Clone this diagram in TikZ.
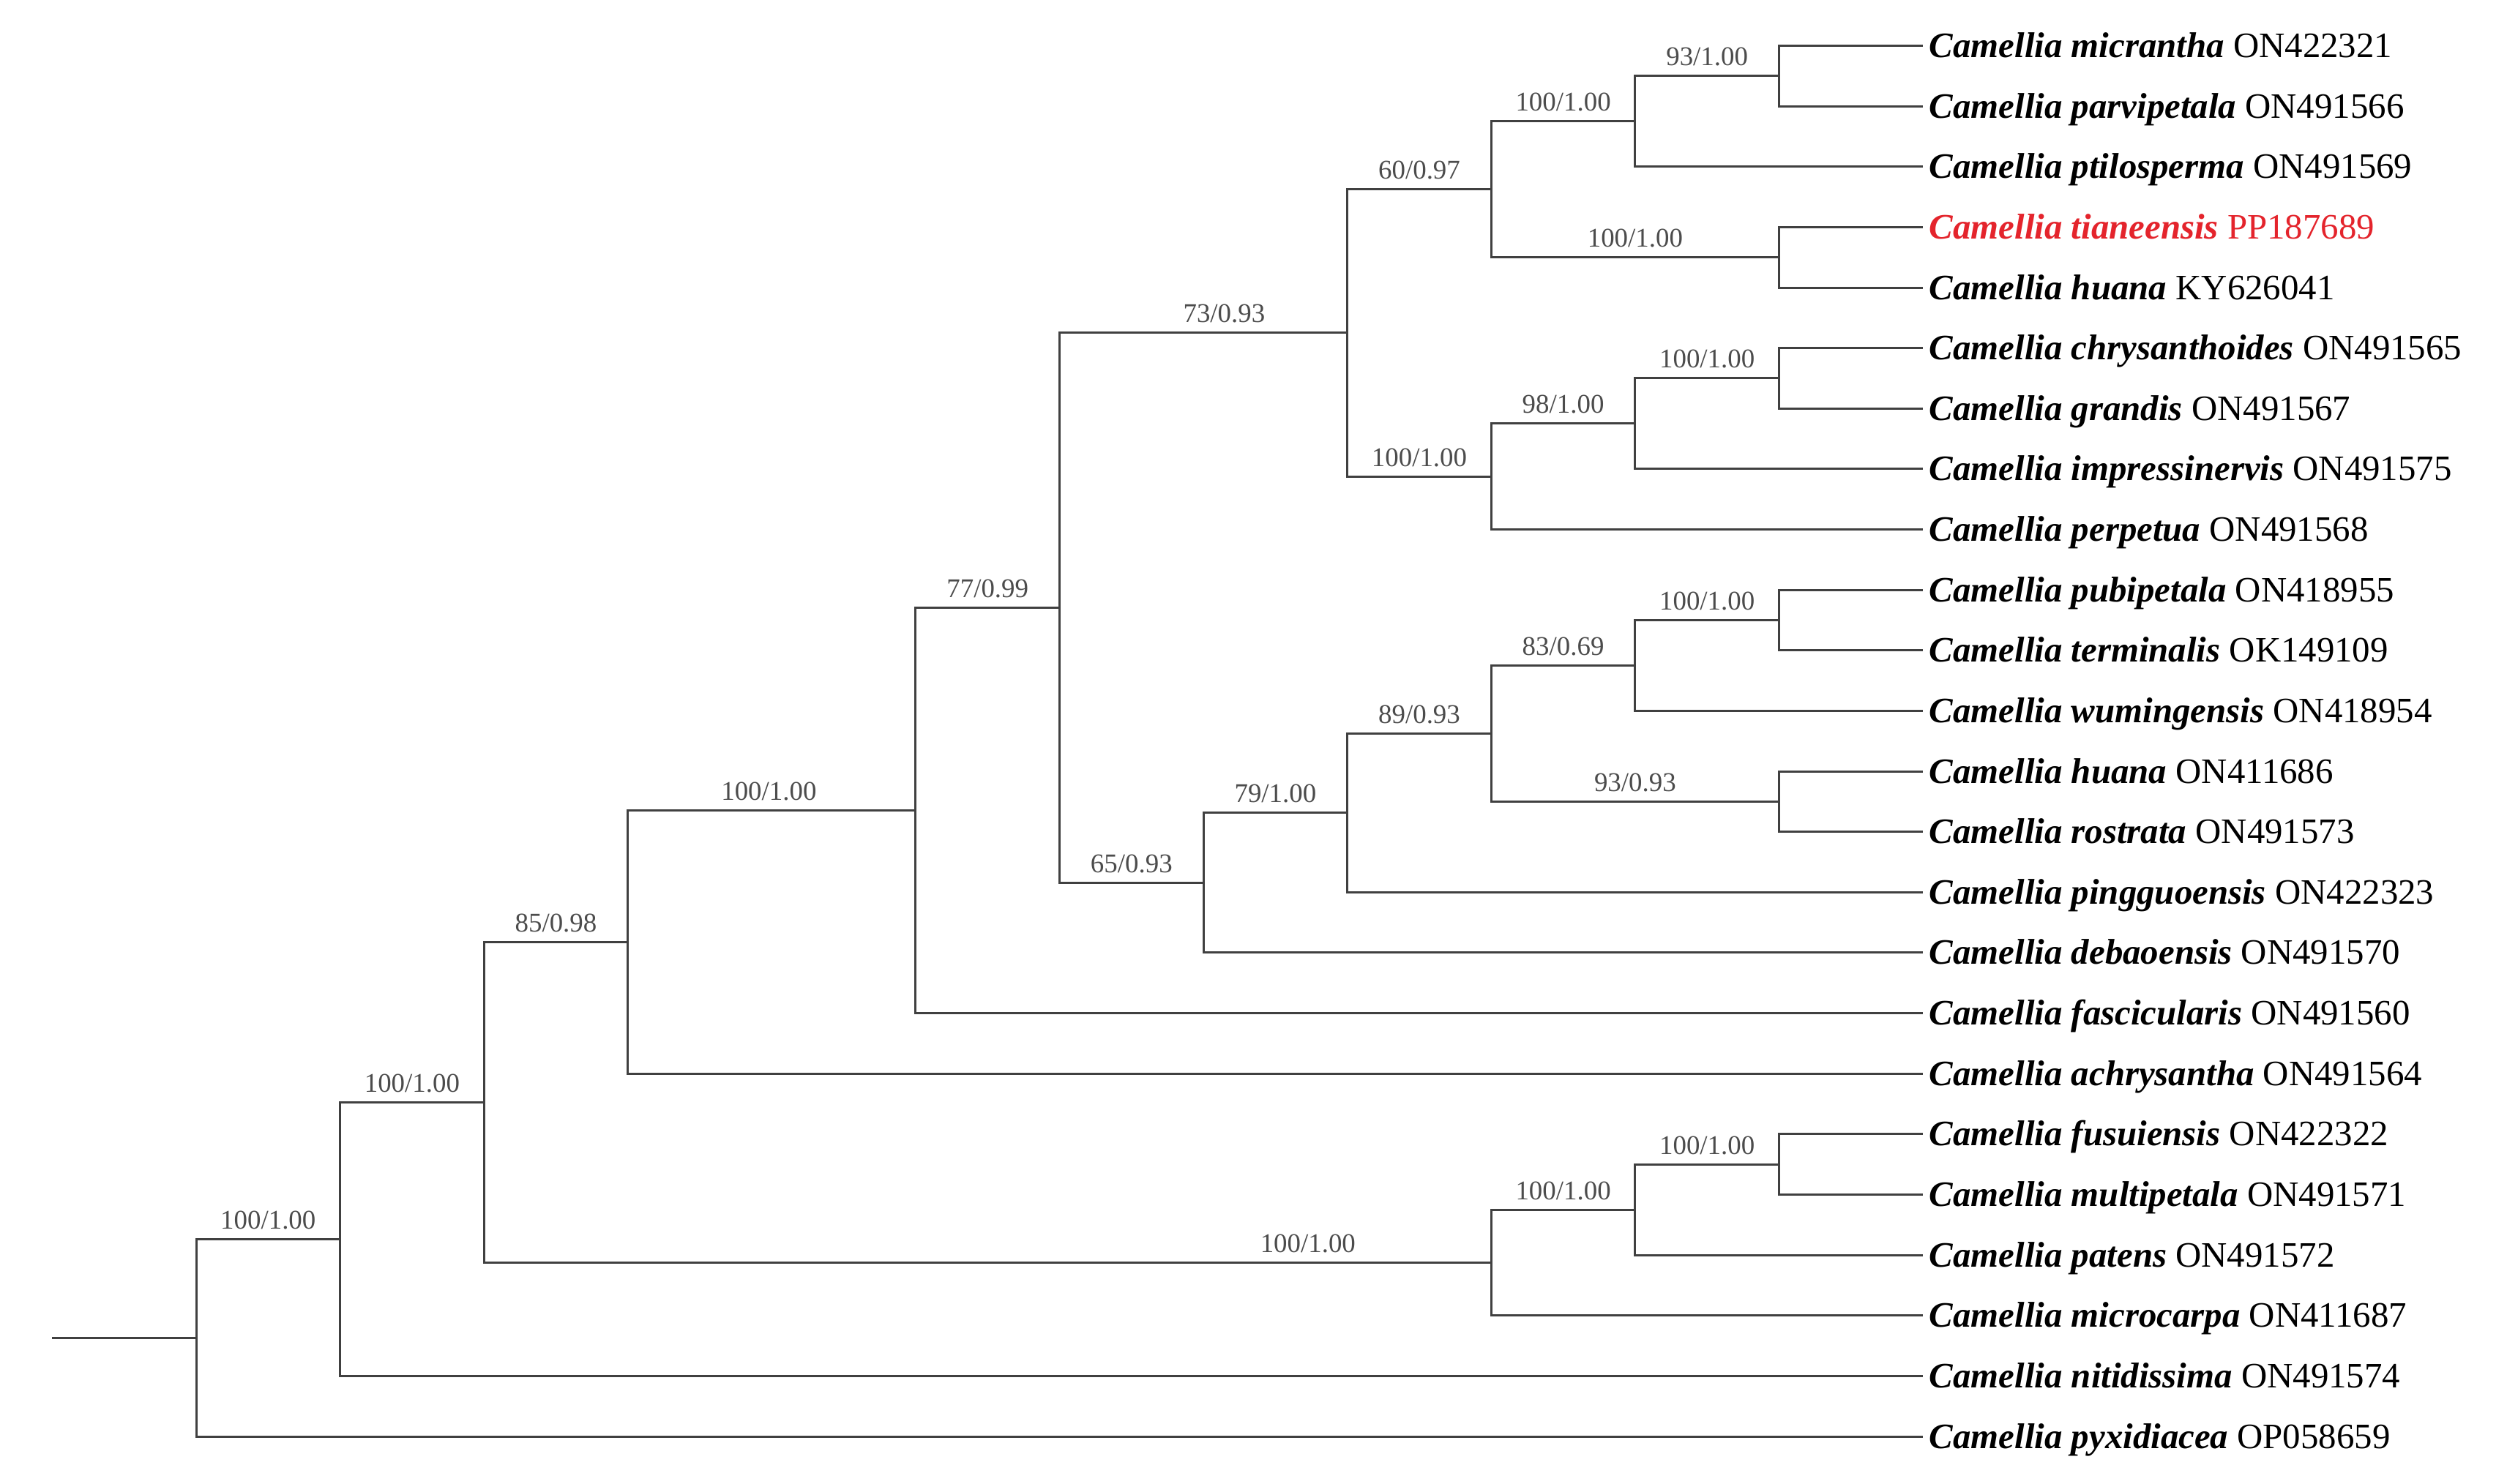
\documentclass[tikz,border=0pt]{standalone}
\usepackage{fontspec}
\setmainfont{Liberation Serif}
\definecolor{rojo}{RGB}{228,36,44}

\begin{document}
\begin{tikzpicture}[x=1.96588cm, y=-0.82633cm,
    rama/.style={draw=black!75, line width=0.85pt},
    hoja/.style={anchor=west, inner sep=0pt, inner xsep=2.3pt, text height=9.1pt, text depth=0pt, font=\fontsize{13.9}{16}\selectfont},
    soporte/.style={above, inner sep=0pt, inner ysep=3.6pt, text depth=0pt, text=black!70, font=\fontsize{10.5}{12}\selectfont}]

    % Fondo y marco del dibujo
    \path[fill=white, use as bounding box] (-1.3633,0.244) rectangle (16.0589,24.775);

    % Dibuja las hojas (especies)
    \node[hoja] (L1) at (12,1) {\textbf{\textit{Camellia micrantha}} ON422321};
    \node[hoja] (L2) at (12,2) {\textbf{\textit{Camellia parvipetala}} ON491566};
    \node[hoja] (L3) at (12,3) {\textbf{\textit{Camellia ptilosperma}} ON491569};
    \node[hoja, text=rojo] (L4) at (12,4) {\textbf{\textit{Camellia tianeensis}} PP187689};
    \node[hoja] (L5) at (12,5) {\textbf{\textit{Camellia huana}} KY626041};
    \node[hoja] (L6) at (12,6) {\textbf{\textit{Camellia chrysanthoides}} ON491565};
    \node[hoja] (L7) at (12,7) {\textbf{\textit{Camellia grandis}} ON491567};
    \node[hoja] (L8) at (12,8) {\textbf{\textit{Camellia impressinervis}} ON491575};
    \node[hoja] (L9) at (12,9) {\textbf{\textit{Camellia perpetua}} ON491568};
    \node[hoja] (L10) at (12,10) {\textbf{\textit{Camellia pubipetala}} ON418955};
    \node[hoja] (L11) at (12,11) {\textbf{\textit{Camellia terminalis}} OK149109};
    \node[hoja] (L12) at (12,12) {\textbf{\textit{Camellia wumingensis}} ON418954};
    \node[hoja] (L13) at (12,13) {\textbf{\textit{Camellia huana}} ON411686};
    \node[hoja] (L14) at (12,14) {\textbf{\textit{Camellia rostrata}} ON491573};
    \node[hoja] (L15) at (12,15) {\textbf{\textit{Camellia pingguoensis}} ON422323};
    \node[hoja] (L16) at (12,16) {\textbf{\textit{Camellia debaoensis}} ON491570};
    \node[hoja] (L17) at (12,17) {\textbf{\textit{Camellia fascicularis}} ON491560};
    \node[hoja] (L18) at (12,18) {\textbf{\textit{Camellia achrysantha}} ON491564};
    \node[hoja] (L19) at (12,19) {\textbf{\textit{Camellia fusuiensis}} ON422322};
    \node[hoja] (L20) at (12,20) {\textbf{\textit{Camellia multipetala}} ON491571};
    \node[hoja] (L21) at (12,21) {\textbf{\textit{Camellia patens}} ON491572};
    \node[hoja] (L22) at (12,22) {\textbf{\textit{Camellia microcarpa}} ON411687};
    \node[hoja] (L23) at (12,23) {\textbf{\textit{Camellia nitidissima}} ON491574};
    \node[hoja] (L24) at (12,24) {\textbf{\textit{Camellia pyxidiacea}} OP058659};

    % Nodos internos del arbol
    \coordinate (raiz) at (-1,22.3687);
    \coordinate (N0) at (0,22.3687);
    \coordinate (N1) at (1,20.7373);
    \coordinate (N2) at (2,18.4746);
    \coordinate (N3) at (3,15.8242);
    \coordinate (N4) at (5,13.6484);
    \coordinate (N5) at (6,10.2969);
    \coordinate (A) at (8,5.75);
    \coordinate (A1) at (9,3.375);
    \coordinate (A11) at (10,2.25);
    \coordinate (A111) at (11,1.5);
    \coordinate (A12) at (11,4.5);
    \coordinate (A2) at (9,8.125);
    \coordinate (A21) at (10,7.25);
    \coordinate (A211) at (11,6.5);
    \coordinate (B) at (7,14.8438);
    \coordinate (B1) at (8,13.6875);
    \coordinate (B11) at (9,12.375);
    \coordinate (B111) at (10,11.25);
    \coordinate (B1111) at (11,10.5);
    \coordinate (B112) at (11,13.5);
    \coordinate (M1) at (9,21.125);
    \coordinate (M2) at (10,20.25);
    \coordinate (M3) at (11,19.5);

    % Tronco y ramas basales
    \draw[rama] (raiz) -- (N0);
    \draw[rama] (N0) |- (N1) node[soporte, pos=0.75] {100/1.00};
    \draw[rama] (N0) |- (L24.west);
    \draw[rama] (N1) |- (N2) node[soporte, pos=0.75] {100/1.00};
    \draw[rama] (N1) |- (L23.west);
    \draw[rama] (N2) |- (N3) node[soporte, pos=0.75] {85/0.98};
    \draw[rama] (N2) |- (M1) node[soporte, pos=0.909] {100/1.00};
    \draw[rama] (N3) |- (N4) node[soporte, pos=0.745] {100/1.00};
    \draw[rama] (N3) |- (L18.west);
    \draw[rama] (N4) |- (N5) node[soporte, pos=0.75] {77/0.99};
    \draw[rama] (N4) |- (L17.west);
    \draw[rama] (N5) |- (A) node[soporte, pos=0.786] {73/0.93};
    \draw[rama] (N5) |- (B) node[soporte, pos=0.75] {65/0.93};

    % Clado superior
    \draw[rama] (A) |- (A1) node[soporte, pos=0.75] {60/0.97};
    \draw[rama] (A) |- (A2) node[soporte, pos=0.75] {100/1.00};
    \draw[rama] (A1) |- (A11) node[soporte, pos=0.75] {100/1.00};
    \draw[rama] (A1) |- (A12) node[soporte, pos=0.75] {100/1.00};
    \draw[rama] (A11) |- (A111) node[soporte, pos=0.75] {93/1.00};
    \draw[rama] (A11) |- (L3.west);
    \draw[rama] (A111) |- (L1.west);
    \draw[rama] (A111) |- (L2.west);
    \draw[rama] (A12) |- (L4.west);
    \draw[rama] (A12) |- (L5.west);
    \draw[rama] (A2) |- (A21) node[soporte, pos=0.75] {98/1.00};
    \draw[rama] (A2) |- (L9.west);
    \draw[rama] (A21) |- (A211) node[soporte, pos=0.75] {100/1.00};
    \draw[rama] (A21) |- (L8.west);
    \draw[rama] (A211) |- (L6.west);
    \draw[rama] (A211) |- (L7.west);

    % Clado medio
    \draw[rama] (B) |- (B1) node[soporte, pos=0.75] {79/1.00};
    \draw[rama] (B) |- (L16.west);
    \draw[rama] (B1) |- (B11) node[soporte, pos=0.75] {89/0.93};
    \draw[rama] (B1) |- (L15.west);
    \draw[rama] (B11) |- (B111) node[soporte, pos=0.75] {83/0.69};
    \draw[rama] (B11) |- (B112) node[soporte, pos=0.75] {93/0.93};
    \draw[rama] (B111) |- (B1111) node[soporte, pos=0.75] {100/1.00};
    \draw[rama] (B111) |- (L12.west);
    \draw[rama] (B1111) |- (L10.west);
    \draw[rama] (B1111) |- (L11.west);
    \draw[rama] (B112) |- (L13.west);
    \draw[rama] (B112) |- (L14.west);

    % Clado inferior
    \draw[rama] (M1) |- (M2) node[soporte, pos=0.75] {100/1.00};
    \draw[rama] (M1) |- (L22.west);
    \draw[rama] (M2) |- (M3) node[soporte, pos=0.75] {100/1.00};
    \draw[rama] (M2) |- (L21.west);
    \draw[rama] (M3) |- (L19.west);
    \draw[rama] (M3) |- (L20.west);
\end{tikzpicture}
\end{document}
